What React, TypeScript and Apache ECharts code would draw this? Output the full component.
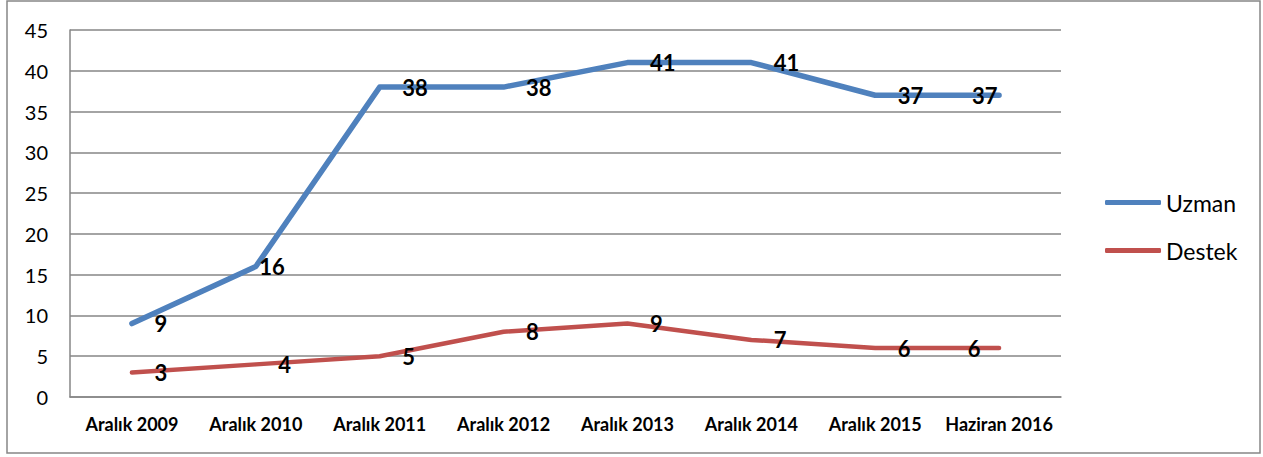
import React, { useEffect, useRef } from "react";
import * as echarts from "echarts";

const categories = [
  "Aralık 2009",
  "Aralık 2010",
  "Aralık 2011",
  "Aralık 2012",
  "Aralık 2013",
  "Aralık 2014",
  "Aralık 2015",
  "Haziran 2016",
];
const uzman = [9, 16, 38, 38, 41, 41, 37, 37];
const destek = [3, 4, 5, 8, 9, 7, 6, 6];
const seriesNames = ["Uzman", "Destek"];

const FONT = "Lato, 'Open Sans', sans-serif";

export default function App() {
  const ref = useRef<HTMLDivElement>(null);
  useEffect(() => {
    if (!ref.current) return;
    const chart = echarts.init(ref.current, null, { renderer: "svg" });
    const labelCfg = {
      show: true,
      position: "right" as const,
      distance: 22,
      fontFamily: FONT,
      fontWeight: "bold" as const,
      fontSize: 22,
      color: "#000",
    };
    const withLabels = (vals: number[], overrides: Record<number, any>) =>
      vals.map((v, i) => (overrides[i] ? { value: v, label: overrides[i] } : v));
    chart.setOption({
      animation: false,
      backgroundColor: "#fff",
      textStyle: { fontFamily: FONT },
      graphic: [
        {
          type: "rect",
          shape: { x: 7, y: 1, width: 1253, height: 452 },
          style: { fill: "none", stroke: "#868686", lineWidth: 1.5 },
          silent: true,
        },
      ],
      grid: { left: 70, top: 30, right: 202, bottom: 60, containLabel: false },
      legend: {
        orient: "vertical",
        left: 1100,
        top: 186,
        icon: "roundRect",
        itemWidth: 56,
        itemHeight: 5,
        itemGap: 25,
        textStyle: { fontFamily: FONT, fontSize: 23, color: "#000" },
        data: seriesNames,
      },
      xAxis: {
        type: "category",
        data: categories,
        boundaryGap: true,
        axisLine: { show: true, lineStyle: { color: "#868686", width: 1.5 } },
        axisTick: { show: false },
        axisLabel: {
          fontFamily: FONT,
          fontWeight: "bold",
          fontSize: 18,
          color: "#000",
          margin: 18,
          interval: 0,
        },
      },
      yAxis: {
        type: "value",
        min: 0,
        max: 45,
        interval: 5,
        axisLine: { show: true, lineStyle: { color: "#868686", width: 1.5 } },
        axisTick: { show: false },
        splitLine: { show: true, lineStyle: { color: "#868686", width: 1.5 } },
        axisLabel: { fontFamily: FONT, fontSize: 20, color: "#000", margin: 22 },
      },
      series: [
        {
          name: seriesNames[0],
          type: "line",
          data: withLabels(uzman, {
            1: { distance: 3 },
            7: { position: "left", distance: 1 },
          }),
          symbol: "circle",
          symbolSize: 1,
          itemStyle: { color: "#4F81BD" },
          lineStyle: { color: "#4F81BD", width: 5.5, cap: "round", join: "round" },
          label: labelCfg,
          z: 3,
        },
        {
          name: seriesNames[1],
          type: "line",
          data: withLabels(destek, {
            7: { position: "left", distance: 18 },
          }),
          symbol: "circle",
          symbolSize: 1,
          itemStyle: { color: "#C0504D" },
          lineStyle: { color: "#C0504D", width: 4.5, cap: "round", join: "round" },
          label: labelCfg,
          z: 2,
        },
      ],
    });
    return () => chart.dispose();
  }, []);
  return (
    <div
      ref={ref}
      style={{ position: "absolute", left: 0, top: 0, width: 1263, height: 457 }}
    />
  );
}
